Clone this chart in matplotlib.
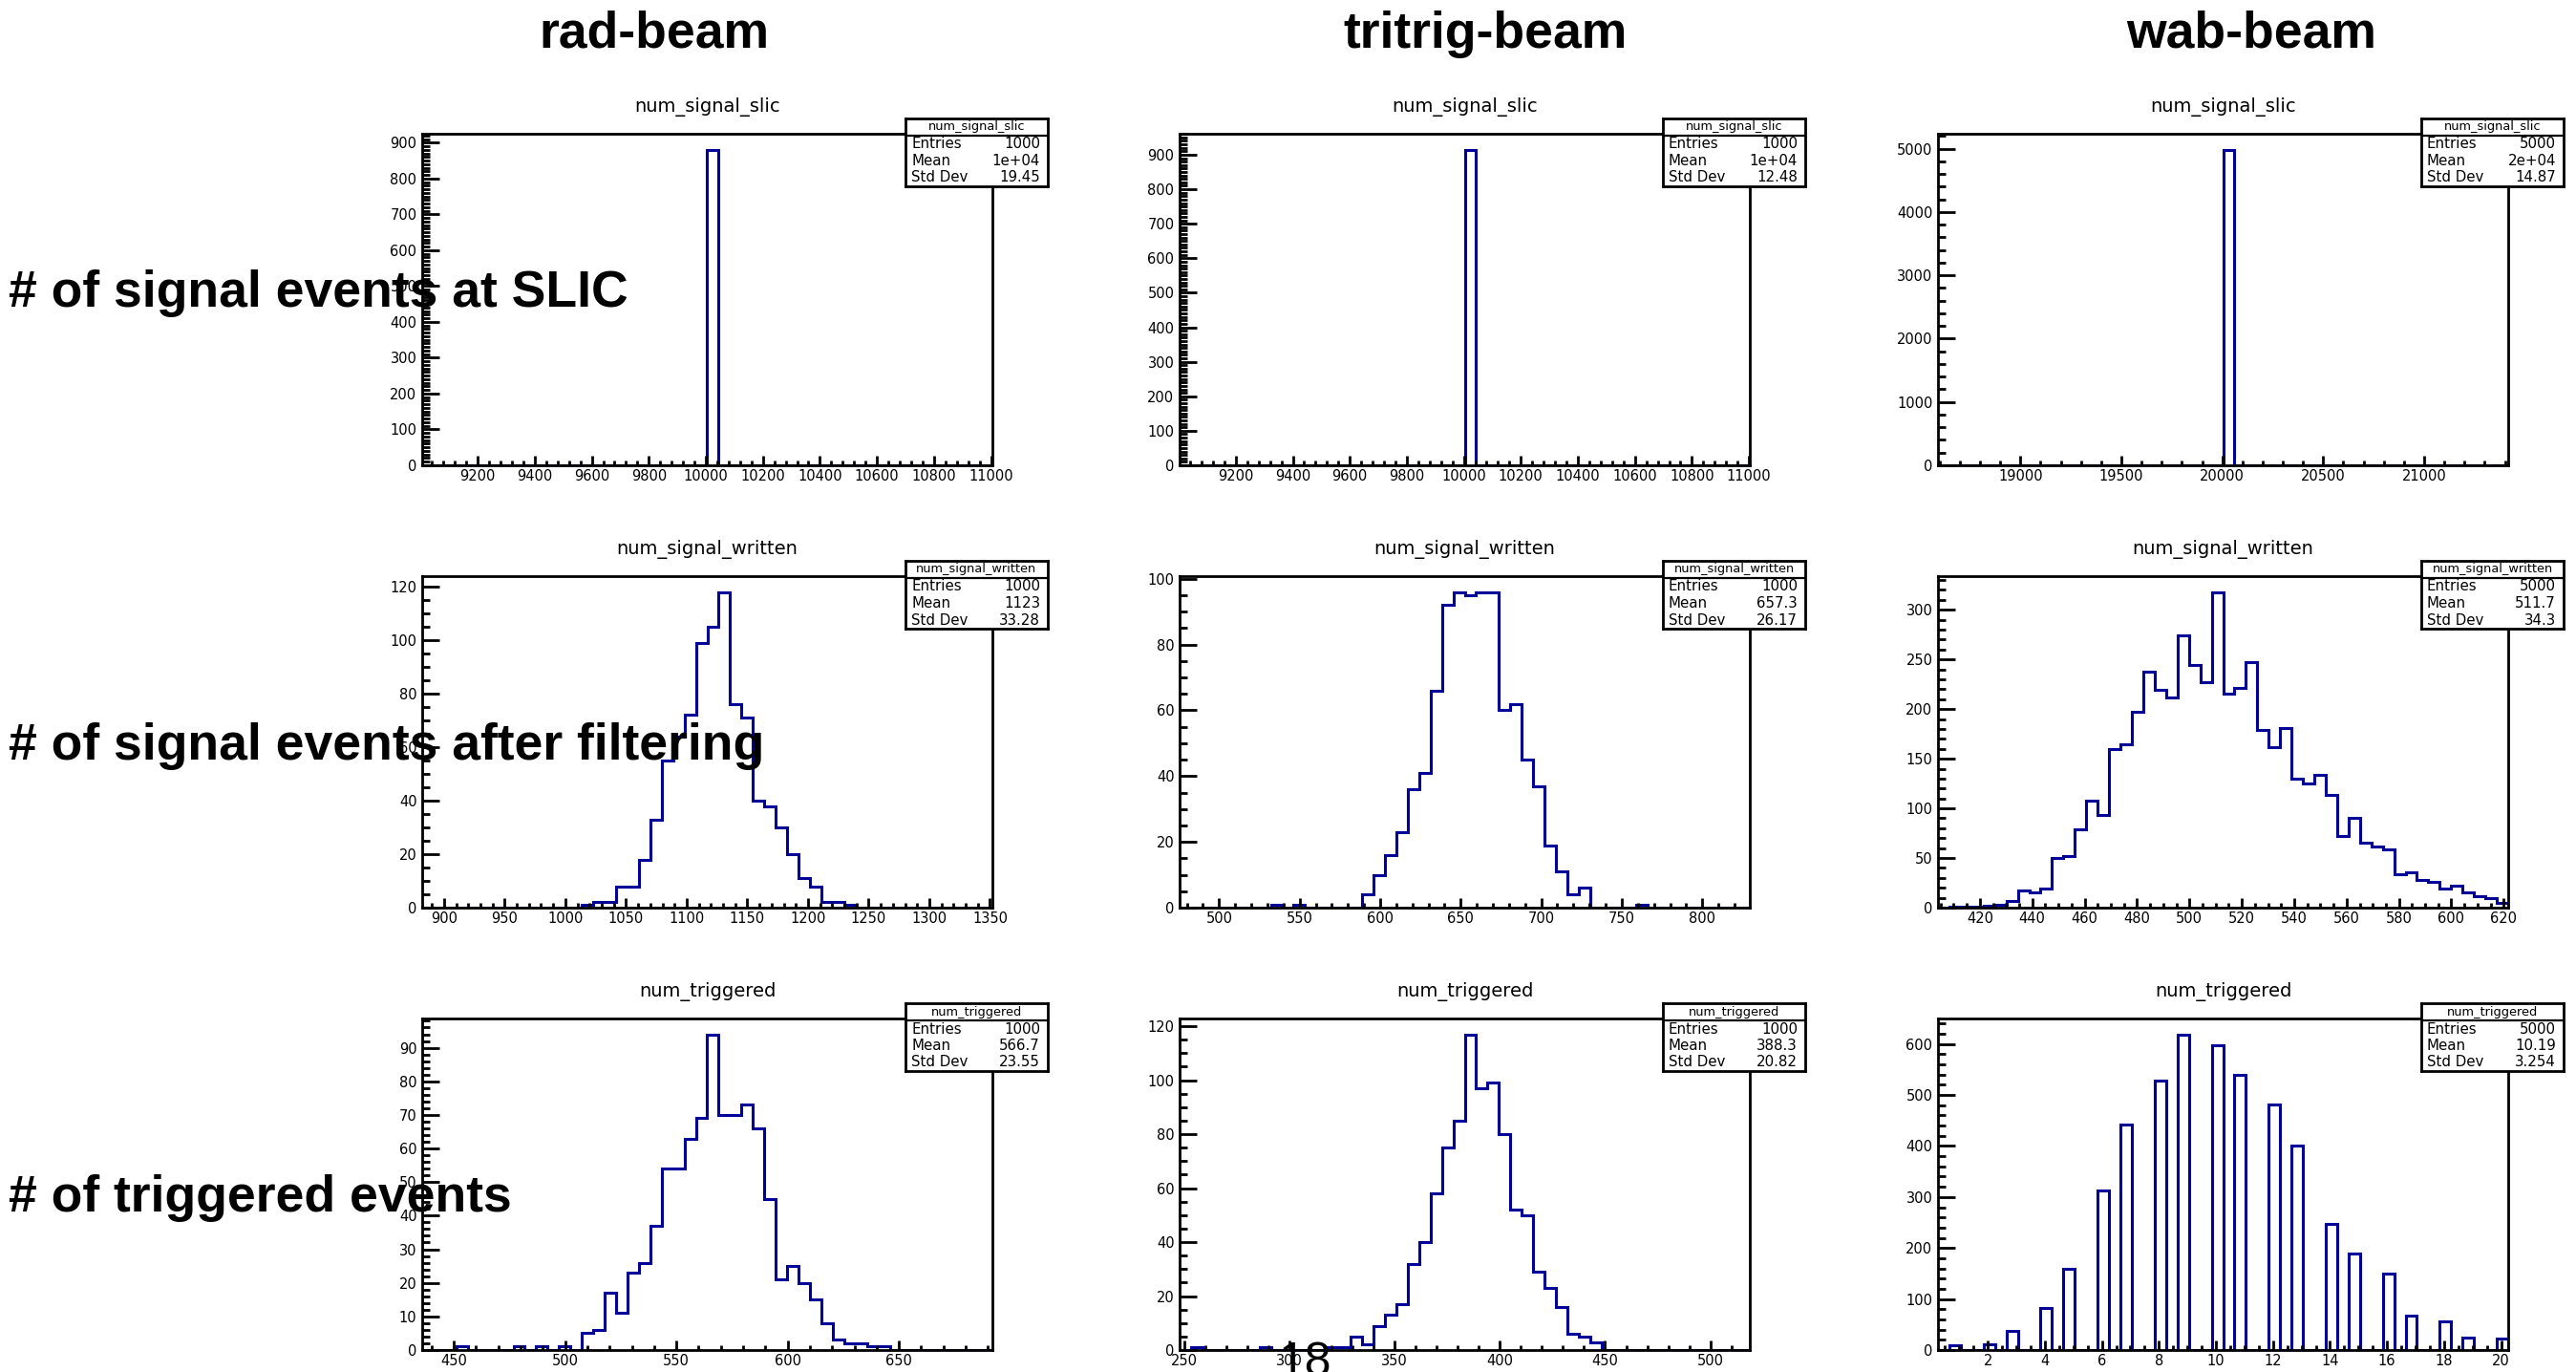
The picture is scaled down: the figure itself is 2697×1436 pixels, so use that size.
import matplotlib
matplotlib.use("Agg")
import matplotlib.pyplot as plt
import numpy as np
from matplotlib.ticker import MultipleLocator, FormatStrFormatter

W, H = 2697, 1436
LINE = "#000099"
SLIDE_FONT = "Liberation Sans"

# slide labels
samples = ["rad-beam", "tritrig-beam", "wab-beam"]
row_labels = ["# of signal events at SLIC",
              "# of signal events after filtering",
              "# of triggered events"]
hist_names = ["num_signal_slic", "num_signal_written", "num_triggered"]

# x range of every histogram (50 bins each), rows x columns
x_ranges = [[(9005, 11005), (9003, 11003), (18592, 21416)],
            [(882, 1352), (475.5, 829.5), (404, 621.7)],
            [(435.8, 692), (247.9, 518.75), (0.25, 20.25)]]

# bin contents: index of the first listed bin, then the counts
rad_slic_first, rad_slic_counts = 25, [881]
tritrig_slic_first, tritrig_slic_counts = 25, [915]
wab_slic_first, wab_slic_counts = 25, [4985]

rad_written_first = 14
rad_written_counts = [1, 2, 2, 8, 8, 18, 33, 55, 64, 72, 99, 105, 118, 76, 71,
                      40, 38, 30, 20, 11, 8, 2, 2, 1]
tritrig_written_first = 8
tritrig_written_counts = [1, 0, 1, 0, 0, 0, 0, 0, 4, 10, 16, 23, 36, 41, 66, 92,
                          96, 95, 96, 96, 60, 62, 45, 37, 19, 11, 4, 6, 0, 0, 0,
                          0, 1]
wab_written_first = 1
wab_written_counts = [1, 1, 1, 2, 3, 7, 17, 15, 19, 50, 52, 79, 108, 93, 160, 165,
                      197, 238, 219, 212, 274, 244, 227, 318, 216, 221, 247, 179,
                      162, 181, 130, 125, 134, 114, 72, 90, 65, 62, 59, 34, 36,
                      28, 26, 19, 22, 15, 12, 10, 5]

rad_trig_first = 3
rad_trig_counts = [1, 0, 0, 0, 0, 1, 0, 1, 0, 1, 0, 5, 6, 17, 11, 23, 26, 37, 54,
                   54, 63, 69, 94, 70, 70, 73, 66, 45, 21, 25, 20, 15, 8, 3, 2,
                   2, 1, 1]
tritrig_trig_first = 1
tritrig_trig_counts = [1, 0, 0, 0, 0, 0, 1, 0, 0, 0, 0, 0, 1, 1, 5, 2, 9, 13, 17,
                       32, 40, 58, 75, 85, 117, 97, 99, 80, 52, 50, 29, 23, 16,
                       6, 5, 3]
# wab triggered is an integer count: value -> entries
wab_trig_values = list(range(1, 21))
wab_trig_counts = [9, 12, 37, 83, 159, 313, 442, 529, 619, 597, 540, 481, 401,
                   248, 189, 149, 68, 57, 25, 23]

# stats box strings
stat_entries = [["1000", "1000", "5000"], ["1000", "1000", "5000"], ["1000", "1000", "5000"]]
stat_mean = [["1e+04", "1e+04", "2e+04"], ["1123", "657.3", "511.7"], ["566.7", "388.3", "10.19"]]
stat_std = [["19.45", "12.48", "14.87"], ["33.28", "26.17", "34.3"], ["23.55", "20.82", "3.254"]]

# (x major, x minor, y major, y minor)
tick_steps = [[(200, 40, 100, 10), (200, 40, 100, 10), (500, 100, 1000, 200)],
              [(50, 10, 20, 5), (50, 10, 20, 5), (20, 5, 50, 10)],
              [(50, 10, 10, 2), (50, 10, 20, 5), (2, 0.5, 100, 20)]]

# pixel layout of the pads
col_left = [442, 1235, 2029]
row_top = [140, 603, 1066]
pad_w, pad_h = 597, 347
label_baseline = [321, 795, 1268]
title_center = [685, 1555, 2357]


def full_counts(row, col, edges):
    if row == 2 and col == 2:
        c, _ = np.histogram(wab_trig_values, bins=edges, weights=wab_trig_counts)
        return c
    first, counts = [
        [(rad_slic_first, rad_slic_counts), (tritrig_slic_first, tritrig_slic_counts),
         (wab_slic_first, wab_slic_counts)],
        [(rad_written_first, rad_written_counts), (tritrig_written_first, tritrig_written_counts),
         (wab_written_first, wab_written_counts)],
        [(rad_trig_first, rad_trig_counts), (tritrig_trig_first, tritrig_trig_counts), None],
    ][row][col]
    c = np.zeros(len(edges) - 1)
    c[first:first + len(counts)] = counts
    return c


def stats_box(fig, row, col):
    right = col_left[col] + pad_w + 58
    top = row_top[row] - 16
    bw, bh = 149, 71
    bax = fig.add_axes([(right - bw) / W, 1 - (top + bh) / H, bw / W, bh / H])
    bax.set_xticks([])
    bax.set_yticks([])
    bax.set_xlim(0, 1)
    bax.set_ylim(0, 1)
    for s in bax.spines.values():
        s.set_linewidth(2.0)
    bax.axhline(1 - 18 / bh, color="black", lw=1.6)
    bax.text(0.5, 1 - 9 / bh, hist_names[row], ha="center", va="center", fontsize=9.3)
    rows = [("Entries", stat_entries[row][col]),
            ("Mean", stat_mean[row][col]),
            ("Std Dev", stat_std[row][col])]
    for i, (name, val) in enumerate(rows):
        y = 1 - (27 + 17.5 * i) / bh
        bax.text(6 / bw, y, name, ha="left", va="center", fontsize=10.8)
        bax.text(1 - 8 / bw, y, val, ha="right", va="center", fontsize=10.8)


fig = plt.figure(figsize=(W / 100, H / 100), dpi=100)

for row in range(3):
    for col in range(3):
        l, t = col_left[col], row_top[row]
        ax = fig.add_axes([l / W, 1 - (t + pad_h) / H, pad_w / W, pad_h / H])
        lo, hi = x_ranges[row][col]
        edges = np.linspace(lo, hi, 51)
        counts = full_counts(row, col, edges)
        ax.stairs(counts, edges, color=LINE, lw=2.2, baseline=0)
        ax.set_xlim(lo, hi)
        ax.set_ylim(0, 1.05 * counts.max())

        xmaj, xmin, ymaj, ymin = tick_steps[row][col]
        ax.xaxis.set_major_locator(MultipleLocator(xmaj))
        ax.xaxis.set_minor_locator(MultipleLocator(xmin))
        ax.yaxis.set_major_locator(MultipleLocator(ymaj))
        ax.yaxis.set_minor_locator(MultipleLocator(ymin))
        ax.xaxis.set_major_formatter(FormatStrFormatter("%g"))
        ax.yaxis.set_major_formatter(FormatStrFormatter("%g"))
        ax.tick_params(which="both", direction="in", top=False, right=False,
                       width=2.0, labelsize=10.5)
        ax.tick_params(axis="y", which="major", length=13, pad=4)
        ax.tick_params(axis="y", which="minor", length=6)
        ax.tick_params(axis="x", which="major", length=7, pad=3)
        ax.tick_params(axis="x", which="minor", length=3.5)
        for s in ax.spines.values():
            s.set_linewidth(2.0)

        ax.annotate(hist_names[row], xy=(0.5, 1), xycoords="axes fraction",
                    xytext=(0, 20), textcoords="offset points",
                    ha="center", va="center", fontsize=14)
        stats_box(fig, row, col)

# column and row headings of the slide
for col, name in enumerate(samples):
    fig.text(title_center[col] / W, 1 - 50 / H, name, ha="center", va="baseline",
             fontsize=38.5, fontweight="bold", family=SLIDE_FONT)

for row, text in enumerate(row_labels):
    fig.text(9 / W, 1 - label_baseline[row] / H, text, ha="left", va="baseline",
             fontsize=38.5, fontweight="bold", family=SLIDE_FONT)

# slide page number
fig.text(1366 / W, 1 - 1440 / H, "18", ha="center", va="baseline",
         fontsize=36, family=SLIDE_FONT)

fig.savefig("out.png", dpi=100)
